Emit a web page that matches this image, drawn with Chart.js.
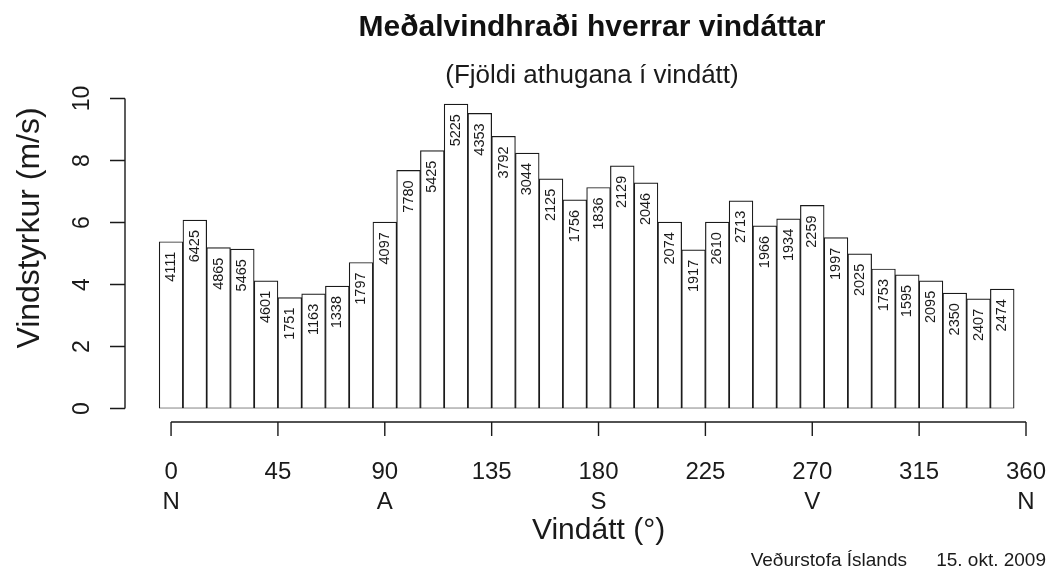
<!DOCTYPE html>
<html>
<head>
<meta charset="utf-8">
<title>Meðalvindhraði hverrar vindáttar</title>
<script src="https://cdn.jsdelivr.net/npm/chart.js@4/dist/chart.umd.min.js"></script>
<style>
  body { margin: 0; background: #fff; }
  #wrap { width: 1050px; height: 573px; }
</style>
</head>
<body>
<div id="wrap"><canvas id="myChart" width="1050" height="573"></canvas></div>
<script>
// vindátt (miðja hvers 10° bils)
const directions = [0, 10, 20, 30, 40, 50, 60, 70, 80, 90, 100, 110,
  120, 130, 140, 150, 160, 170, 180, 190, 200, 210, 220, 230,
  240, 250, 260, 270, 280, 290, 300, 310, 320, 330, 340, 350];

// meðalvindhraði m/s
const speeds = [5.38, 6.08, 5.19, 5.14, 4.12, 3.58, 3.70, 3.95, 4.71, 6.01, 7.68, 8.32,
  9.82, 9.52, 8.78, 8.24, 7.41, 6.73, 7.13, 7.83, 7.28, 6.01, 5.12, 6.01,
  6.70, 5.89, 6.12, 6.55, 5.51, 4.99, 4.50, 4.31, 4.12, 3.72, 3.54, 3.85];

// fjöldi athugana
const counts = [4111, 6425, 4865, 5465, 4601, 1751, 1163, 1338, 1797, 4097, 7780, 5425,
  5225, 4353, 3792, 3044, 2125, 1756, 1836, 2129, 2046, 2074, 1917, 2610,
  2713, 1966, 1934, 2259, 1997, 2025, 1753, 1595, 2095, 2350, 2407, 2474];

const xTicks = [0, 45, 90, 135, 180, 225, 270, 315, 360];
const compassPos = [0, 90, 180, 270, 360];
const compassNames = ['N', 'A', 'S', 'V', 'N'];
const yTicks = [0, 2, 4, 6, 8, 10];

const FONT = '"Liberation Sans", Arial, Helvetica, sans-serif';
const INK = '#1a1a1a';

// R-style axes, labels and counts inside the bars
const rAxes = {
  id: 'rAxes',
  afterDraw(chart) {
    const ctx = chart.ctx;
    const xs = chart.scales.x, ys = chart.scales.y;
    ctx.save();
    ctx.strokeStyle = INK;
    ctx.fillStyle = INK;
    ctx.lineWidth = 1.4;

    // counts
    const meta = chart.getDatasetMeta(0);
    ctx.font = '14.5px ' + FONT;
    ctx.textAlign = 'right';
    ctx.textBaseline = 'middle';
    meta.data.forEach((bar, i) => {
      ctx.save();
      ctx.translate(bar.x, bar.y + 10);
      ctx.rotate(-Math.PI / 2);
      ctx.fillText(String(counts[i]), 0, 0);
      ctx.restore();
    });

    // y axis
    const yAxisX = 125;
    ctx.beginPath();
    ctx.moveTo(yAxisX, ys.getPixelForValue(yTicks[0]));
    ctx.lineTo(yAxisX, ys.getPixelForValue(yTicks[yTicks.length - 1]));
    yTicks.forEach(v => {
      const py = ys.getPixelForValue(v);
      ctx.moveTo(yAxisX, py);
      ctx.lineTo(yAxisX - 15, py);
    });
    ctx.stroke();
    ctx.font = '23px ' + FONT;
    ctx.textAlign = 'center';
    ctx.textBaseline = 'middle';
    yTicks.forEach(v => {
      ctx.save();
      ctx.translate(83, ys.getPixelForValue(v));
      ctx.rotate(-Math.PI / 2);
      ctx.fillText(String(v), 0, 0);
      ctx.restore();
    });
    ctx.save();
    ctx.font = '32px ' + FONT;
    ctx.translate(30, 228);
    ctx.rotate(-Math.PI / 2);
    ctx.fillText('Vindstyrkur (m/s)', 0, 0);
    ctx.restore();

    // x axis
    const xAxisY = 422;
    ctx.beginPath();
    ctx.moveTo(xs.getPixelForValue(xTicks[0]), xAxisY);
    ctx.lineTo(xs.getPixelForValue(xTicks[xTicks.length - 1]), xAxisY);
    xTicks.forEach(v => {
      const px = xs.getPixelForValue(v);
      ctx.moveTo(px, xAxisY);
      ctx.lineTo(px, xAxisY + 14);
    });
    ctx.stroke();
    ctx.font = '24px ' + FONT;
    xTicks.forEach(v => ctx.fillText(String(v), xs.getPixelForValue(v), 472));
    compassPos.forEach((v, i) => ctx.fillText(compassNames[i], xs.getPixelForValue(v), 502));
    ctx.font = '30px ' + FONT;
    ctx.fillText('Vindátt (°)', (xs.getPixelForValue(0) + xs.getPixelForValue(360)) / 2, 531);

    // footer
    ctx.font = '19px ' + FONT;
    ctx.textAlign = 'right';
    ctx.fillText('Veðurstofa Íslands', 907, 561);
    ctx.fillText('15. okt. 2009', 1046, 561);
    ctx.restore();
  }
};

const data = {
  datasets: [{
    data: directions.map((d, i) => ({ x: d, y: speeds[i] })),
    backgroundColor: '#ffffff',
    borderColor: INK,
    borderWidth: 1.2,
    borderSkipped: false,
    barPercentage: 1,
    categoryPercentage: 1
  }]
};

const config = {
  type: 'bar',
  data: data,
  options: {
    responsive: false,
    animation: false,
    layout: { padding: { left: 158, right: 24, top: 0, bottom: 164.5 } },
    scales: {
      x: { type: 'linear', min: -5.5, max: 360, offset: false, display: false },
      y: { min: 0, max: 10, display: false }
    },
    plugins: {
      legend: { display: false },
      tooltip: { enabled: false },
      title: {
        display: true,
        text: 'Meðalvindhraði hverrar vindáttar',
        color: '#111',
        font: { family: FONT, size: 30, weight: 'bold', lineHeight: 1.2 },
        padding: { top: 10, bottom: 2 }
      },
      subtitle: {
        display: true,
        text: '(Fjöldi athugana í vindátt)',
        color: INK,
        font: { family: FONT, size: 26, lineHeight: 1.2 },
        padding: { top: 12, bottom: 7.3 }
      }
    }
  },
  plugins: [rAxes]
};

new Chart(document.getElementById('myChart').getContext('2d'), config);
</script>
</body>
</html>
